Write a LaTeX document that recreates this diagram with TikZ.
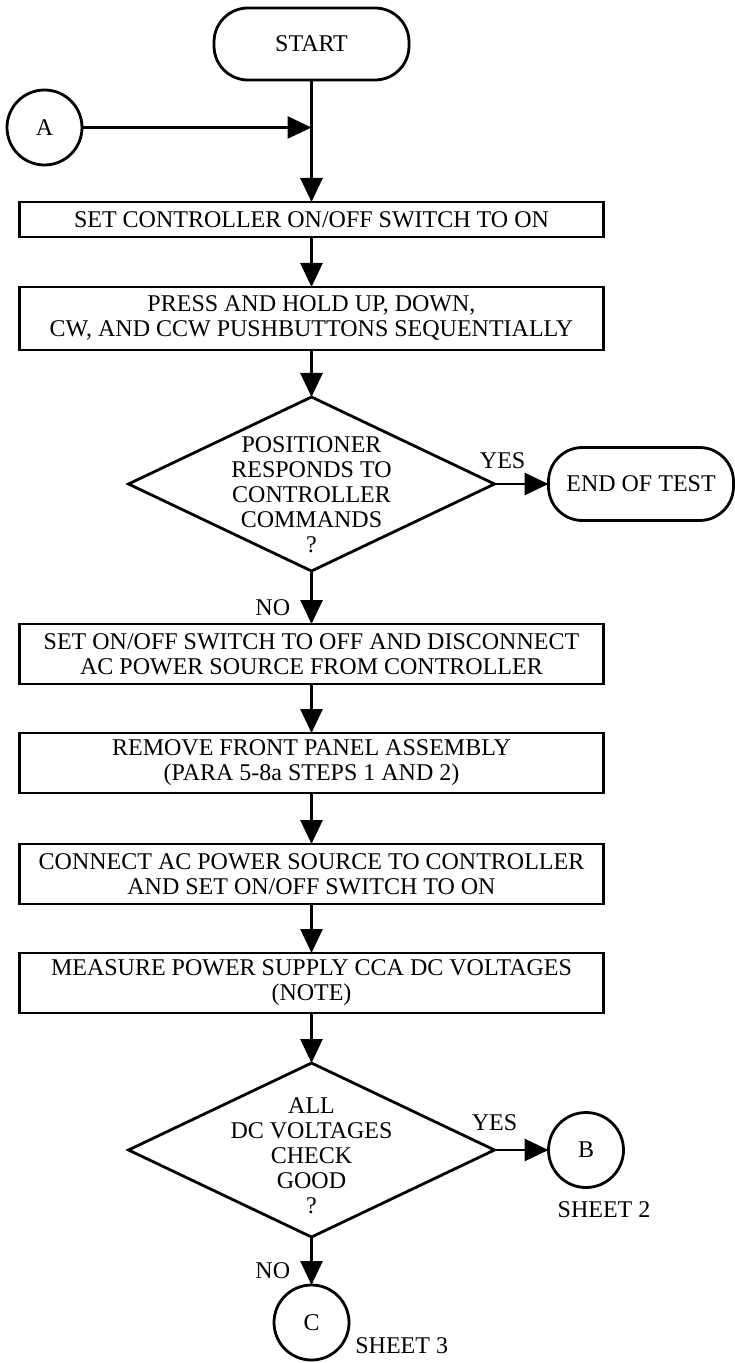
\documentclass[tikz,border=0pt]{standalone}
\usepackage{fontspec}
\setmainfont{Liberation Serif}
\usetikzlibrary{arrows.meta,shapes,positioning,calc}

\begin{document}
\begin{tikzpicture}[x=0.5pt,y=-0.5pt,
    font=\fontsize{12}{12.5}\selectfont,
    box/.style={draw,line width=1.4pt,outer sep=0pt,minimum width=292pt,minimum height=30pt,align=center},
    term/.style={draw,line width=1.4pt,outer sep=0pt,rounded corners=17pt,minimum width=97.5pt,minimum height=36pt},
    decision/.style={draw,diamond,line width=1.4pt,outer sep=0pt,minimum width=183pt,minimum height=87pt,inner sep=0pt},
    conn/.style={draw,circle,line width=1.4pt,outer sep=0pt,minimum size=37.5pt,inner sep=0pt},
    note/.style={inner sep=2pt,align=center},
    arr/.style={-{Triangle[length=12pt,width=11pt]},line width=1.4pt}]
  \useasboundingbox (0,0) rectangle (734,1363);
  \node[term] (start) at (311.5,44) {START};
  \node[conn] (A) at (44.5,127.5) {A};
  \coordinate (join) at (start.south |- A.east);
  \node[box,minimum height=17.5pt,below=61pt of start] (setOn) {SET CONTROLLER ON/OFF SWITCH TO ON};
  \node[box,minimum height=31.5pt,below=25pt of setOn] (press) {PRESS AND HOLD UP, DOWN,\\CW, AND CCW PUSHBUTTONS SEQUENTIALLY};
  \node[decision,below=23.5pt of press] (resp) {};
  \node[note,yshift=-5.5pt] (respTxt) at (resp) {POSITIONER\\RESPONDS TO\\CONTROLLER\\COMMANDS\\?};
  \node[term,minimum width=92.5pt,minimum height=36.5pt,right=27pt of resp] (endTest) {END OF TEST};
  \node[box,below=26.5pt of resp] (acOff) {SET ON/OFF SWITCH TO OFF AND DISCONNECT\\AC POWER SOURCE FROM CONTROLLER};
  \node[box,below=24.5pt of acOff] (panel) {REMOVE FRONT PANEL ASSEMBLY\\(PARA 5-8a STEPS 1 AND 2)};
  \node[box,below=25.5pt of panel] (acOn) {CONNECT AC POWER SOURCE TO CONTROLLER\\AND SET ON/OFF SWITCH TO ON};
  \node[box,below=24.5pt of acOn] (measure) {MEASURE POWER SUPPLY CCA DC VOLTAGES\\(NOTE)};
  \node[decision,below=25pt of measure] (dcGood) {};
  \node[note,yshift=-3pt] (dcTxt) at (dcGood) {ALL\\DC VOLTAGES\\CHECK\\GOOD\\?};
  \node[conn,right=27pt of dcGood] (B) {B};
  \node[conn,below=24pt of dcGood] (C) {C};
  \node[note] (sheet2) at ([xshift=9pt,yshift=-11pt]B.south) {SHEET 2};
  \node[note,anchor=west] (sheet3) at ([xshift=1pt,yshift=-11.5pt]C.east) {SHEET 3};
  \draw[arr] (start) -- (setOn);
  \draw[arr] (A) -- (join);
  \draw[arr] (setOn) -- (press);
  \draw[arr] (press) -- (resp);
  \draw[arr] (resp) -- node[note,pos=0.15,above=5pt]{YES} (endTest);
  \draw[arr] (resp) -- node[note,pos=0.7,left=8pt]{NO} (acOff);
  \draw[arr] (acOff) -- (panel);
  \draw[arr] (panel) -- (acOn);
  \draw[arr] (acOn) -- (measure);
  \draw[arr] (measure) -- (dcGood);
  \draw[arr] (dcGood) -- node[note,pos=0,above=7pt]{YES} (B);
  \draw[arr] (dcGood) -- node[note,pos=0.7,left=8pt]{NO} (C);
\end{tikzpicture}
\end{document}
